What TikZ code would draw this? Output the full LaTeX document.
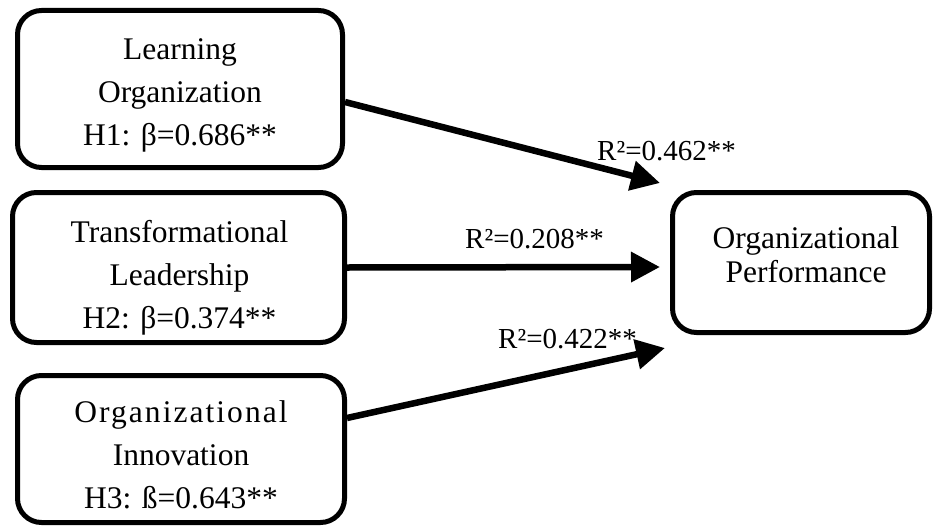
\documentclass[tikz,border=0pt]{standalone}
\usepackage{fontspec}
\setmainfont{Liberation Serif}
\usetikzlibrary{arrows.meta}
\begin{document}
\begin{tikzpicture}[x=1pt,y=-1pt,
  box/.style={draw, line width=5pt, rounded corners=24pt, inner sep=0pt},
  boxtext/.style={align=center, anchor=base, inner sep=0pt, font=\fontsize{31.5}{43}\selectfont},
  rlabel/.style={anchor=base west, inner sep=0pt, font=\fontsize{29}{34}\selectfont},
  link/.style={line width=6.5pt, -{Triangle[length=29pt,width=29pt]}}]
\useasboundingbox (0,0) rectangle (933,527);

% construct boxes
\node[box, minimum width=325pt, minimum height=157pt] (lo) at (180,89) {};
\node[box, minimum width=332pt, minimum height=150pt] (tl) at (178.5,267.5) {};
\node[box, minimum width=327pt, minimum height=147pt] (oi) at (181,449) {};
\node[box, minimum width=257pt, minimum height=140pt] (op) at (801,262.5) {};

% box texts (anchored at the baseline of the last line)
\node[boxtext] (lo-t) at (180,145) {Learning\\Organization\\H1: β=0.686**};
\node[boxtext] (tl-t) at (179.5,328) {Transformational\\Leadership\\H2: β=0.374**};
\node[boxtext] (oi-t) at (181,508) {{\addfontfeatures{LetterSpace=6.5}Organizational}\\Innovation\\H3: ß=0.643**};
\node[boxtext, font=\fontsize{31.5}{34}\selectfont] (op-t) at (806,282) {Organizational\\Performance};

% arrow ends
\coordinate (t1) at (660,183);
\coordinate (t2) at (660,267);
\coordinate (t3) at (665,348);

\draw[link] ([yshift=-13pt]lo.east) -- (t1);
\draw[link] (tl.east) -- (t2);
\draw[link] ([yshift=31pt]oi.east) -- (t3);

% path coefficients
\node[rlabel] (r1) at (597,160) {R²=0.462**};
\node[rlabel] (r2) at (465,248) {R²=0.208**};
\node[rlabel] (r3) at (498,348) {R²=0.422**};
\end{tikzpicture}
\end{document}
